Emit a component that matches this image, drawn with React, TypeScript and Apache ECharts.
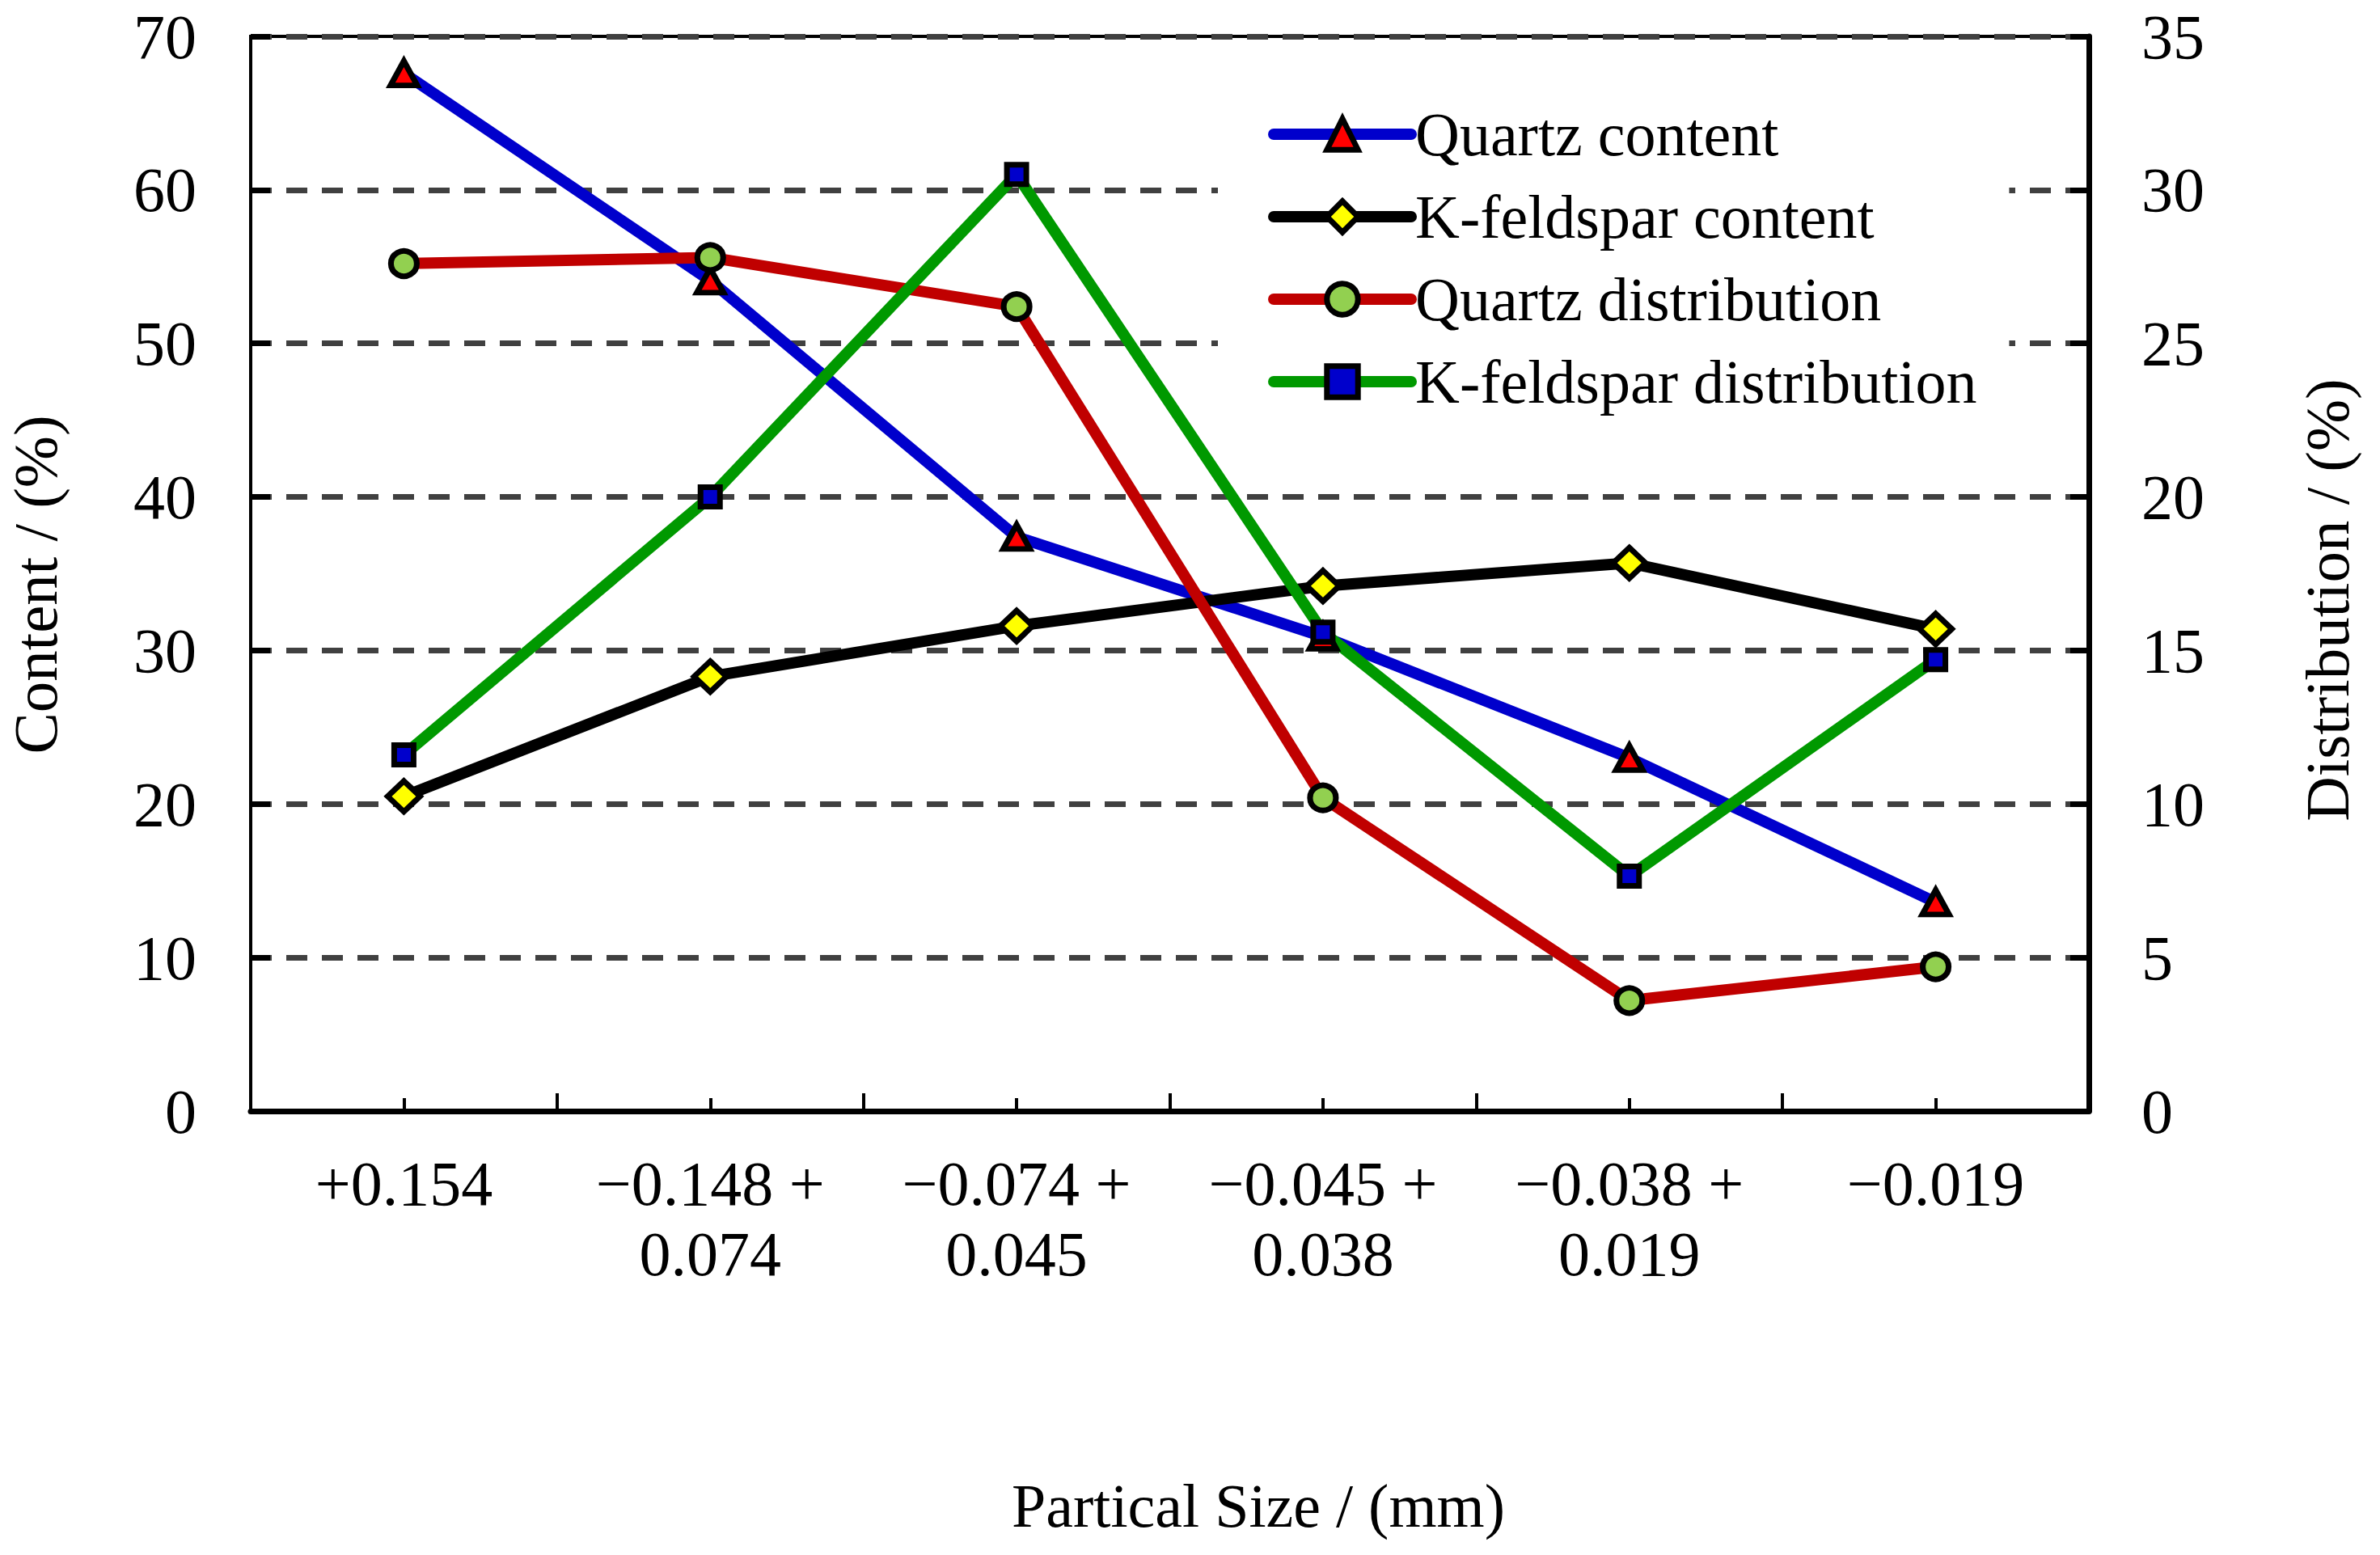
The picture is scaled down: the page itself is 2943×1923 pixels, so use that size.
import React, { useEffect, useRef } from 'react';
import * as echarts from 'echarts';

const categories = [
  '+0.154',
  '\u22120.148 +\n0.074',
  '\u22120.074 +\n0.045',
  '\u22120.045 +\n0.038',
  '\u22120.038 +\n0.019',
  '\u22120.019',
];
const quartzContent = [67.6, 54.1, 37.4, 30.9, 23.0, 13.6];
const kfeldsparContent = [20.5, 28.3, 31.6, 34.2, 35.7, 31.4];
const quartzDistribution = [27.6, 27.8, 26.2, 10.2, 3.6, 4.7];
const kfeldsparDistribution = [11.6, 20.0, 30.5, 15.6, 7.65, 14.7];
const contentTicks = [0, 10, 20, 30, 40, 50, 60, 70];
const distributionTicks = [0, 5, 10, 15, 20, 25, 30, 35];
const seriesNames = ['Quartz content', 'K-feldspar content', 'Quartz distribution', 'K-feldspar distribution'];
const xTitle = 'Partical Size / (mm)';
const yLeftTitle = 'Content / (%)';
const yRightTitle = 'Distribution / (%)';

const FONT = '"Liberation Serif", "Times New Roman", serif';

export default function App() {
  const ref = useRef<HTMLDivElement>(null);
  useEffect(() => {
    if (!ref.current) return;
    const chart = echarts.init(ref.current, null, { renderer: 'svg' });
    const labelStyle = { color: '#000', fontFamily: FONT, fontSize: 78 };
    const mk = (
      name: string,
      data: number[],
      yAxisIndex: number,
      lineColor: string,
      symbol: string,
      symbolSize: any,
      fill: string
    ) => ({
      name,
      type: 'line',
      xAxisIndex: 0,
      yAxisIndex,
      data,
      symbol,
      symbolSize,
      showAllSymbol: true,
      lineStyle: { color: lineColor, width: 14, cap: 'round', join: 'round' },
      itemStyle: { color: fill, borderColor: '#000', borderWidth: 7 },
      emphasis: { disabled: true },
    });
    const legendItem = (name: string, lineColor: string, fill: string) => ({
      name,
      lineStyle: { color: lineColor, width: 14, cap: 'round' },
      itemStyle: { color: fill, borderColor: '#000', borderWidth: 7 },
    });
    chart.setOption({
      animation: false,
      backgroundColor: '#fff',
      grid: {
        left: 310,
        right: 360,
        top: 45,
        bottom: 549,
        show: true,
        borderColor: '#000',
        borderWidth: 4,
        backgroundColor: 'transparent',
      },
      legend: {
        orient: 'vertical',
        left: 1506,
        top: 86,
        padding: [40, 40, 40, 62],
        backgroundColor: '#fff',
        itemWidth: 170,
        itemHeight: 48,
        itemGap: 22,
        textStyle: { color: '#000', fontFamily: FONT, fontSize: 76, lineHeight: 80 },
        data: [
          legendItem(seriesNames[0], '#0000CC', '#FF0000'),
          legendItem(seriesNames[1], '#000000', '#FFFF00'),
          legendItem(seriesNames[2], '#C00000', '#92D050'),
          legendItem(seriesNames[3], '#009900', '#0000CC'),
        ],
      },
      xAxis: [
        {
          type: 'category',
          data: categories,
          boundaryGap: true,
          position: 'bottom',
          axisLine: { show: true, lineStyle: { color: '#000', width: 7 } },
          axisTick: { show: true, inside: true, alignWithLabel: false, interval: 0, length: 22, lineStyle: { color: '#000', width: 4 } },
          axisLabel: { ...labelStyle, interval: 0, margin: 46, lineHeight: 87, align: 'center' },
          splitLine: { show: false },
        },
        {
          type: 'category',
          data: categories,
          boundaryGap: true,
          position: 'bottom',
          axisLine: { show: false },
          axisTick: { show: true, inside: true, alignWithLabel: true, interval: 0, length: 16, lineStyle: { color: '#000', width: 4 } },
          axisLabel: { show: false },
          splitLine: { show: false },
        },
      ],
      yAxis: [
        {
          type: 'value',
          position: 'left',
          min: contentTicks[0],
          max: contentTicks[contentTicks.length - 1],
          interval: contentTicks[1] - contentTicks[0],
          axisLine: { show: true, lineStyle: { color: '#000', width: 4 } },
          axisTick: { show: true, inside: true, length: 24, lineStyle: { color: '#000', width: 7 } },
          axisLabel: { ...labelStyle, margin: 67 },
          splitLine: { show: true, lineStyle: { color: '#404040', width: 7, type: [26, 18] } },
        },
        {
          type: 'value',
          position: 'right',
          min: distributionTicks[0],
          max: distributionTicks[distributionTicks.length - 1],
          interval: distributionTicks[1] - distributionTicks[0],
          axisLine: { show: true, lineStyle: { color: '#000', width: 7 } },
          axisTick: { show: true, inside: true, length: 23, lineStyle: { color: '#000', width: 7 } },
          axisLabel: { ...labelStyle, margin: 65 },
          splitLine: { show: false },
        },
      ],
      series: [
        mk(seriesNames[0], quartzContent, 0, '#0000CC', 'triangle', [33, 30], '#FF0000'),
        mk(seriesNames[1], kfeldsparContent, 0, '#000000', 'diamond', [40, 38], '#FFFF00'),
        mk(seriesNames[2], quartzDistribution, 1, '#C00000', 'circle', [32, 31], '#92D050'),
        mk(seriesNames[3], kfeldsparDistribution, 1, '#009900', 'rect', [24, 24], '#0000CC'),
      ],
      graphic: [
        {
          type: 'text',
          x: 1556,
          y: 1862,
          style: { text: xTitle, fill: '#000', fontFamily: FONT, fontSize: 76, align: 'center', verticalAlign: 'middle' },
        },
        {
          type: 'text',
          x: 44,
          y: 723,
          rotation: Math.PI / 2,
          style: { text: yLeftTitle, fill: '#000', fontFamily: FONT, fontSize: 77, align: 'center', verticalAlign: 'middle' },
        },
        {
          type: 'text',
          x: 2878,
          y: 742,
          rotation: Math.PI / 2,
          style: { text: yRightTitle, fill: '#000', fontFamily: FONT, fontSize: 77, align: 'center', verticalAlign: 'middle' },
        },
      ],
    });
    return () => chart.dispose();
  }, []);
  return (
    <div
      ref={ref}
      style={{ position: 'fixed', left: 0, top: 0, width: '2943px', height: '1923px', background: '#fff' }}
    />
  );
}
